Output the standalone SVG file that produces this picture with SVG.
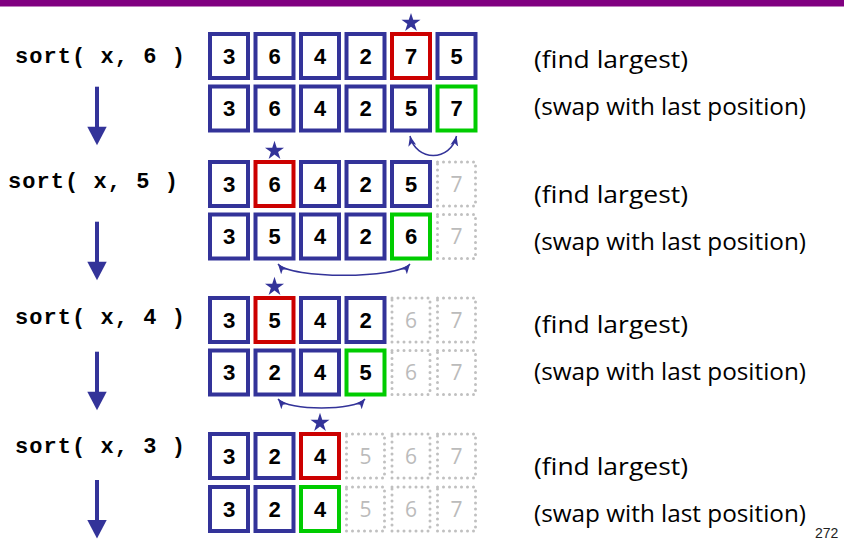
<svg xmlns="http://www.w3.org/2000/svg" xmlns:xlink="http://www.w3.org/1999/xlink" width="844" height="539" viewBox="0 0 844 539">
<style>
.c{fill:#fff;stroke:#333399;stroke-width:4}
.r{fill:#fff;stroke:#cc0000;stroke-width:4}
.g{fill:#fff;stroke:#00cc00;stroke-width:4}
.d{fill:none;stroke:#c0c0c0;stroke-width:3;stroke-dasharray:0 6;stroke-linecap:round}
.n{font-family:"Liberation Mono",monospace;font-weight:bold;font-size:22px;text-anchor:middle;fill:#000}
.gn{font-family:"Open Sans",sans-serif;font-size:21px;text-anchor:middle;fill:#bbbbbb}
.lab{font-family:"Liberation Mono",monospace;font-weight:bold;font-size:22px;fill:#000}
.t{font-family:"Open Sans",sans-serif;font-size:24px;fill:#000}
.arc{fill:none;stroke:#333399;stroke-width:1.5;marker-start:url(#ah);marker-end:url(#ah)}
.dn{fill:#333399}
.star{fill:#333399}
</style>
<defs>
<marker id="ah" markerUnits="userSpaceOnUse" markerWidth="12" markerHeight="10" refX="10" refY="4" orient="auto-start-reverse"><path d="M0,0 L10,4 L0,8 L2.5,4 z" fill="#333399"/></marker>
<path id="star" d="M0,-10 L2.25,-3.09 L9.51,-3.09 L3.63,1.18 L5.88,8.09 L0,3.82 L-5.88,8.09 L-3.63,1.18 L-9.51,-3.09 L-2.25,-3.09 Z"/>
</defs>
<rect x="0" y="0" width="844" height="6.5" fill="#800080"/>

<!-- Group 1 -->
<g id="g1r1">
<g id="g1r1c1"><rect class="c" x="210" y="34" width="38" height="44"/><text class="n" x="229" y="63.5">3</text></g>
<g id="g1r1c2"><rect class="c" x="255.5" y="34" width="38" height="44"/><text class="n" x="274.5" y="63.5">6</text></g>
<g id="g1r1c3"><rect class="c" x="301" y="34" width="38" height="44"/><text class="n" x="320" y="63.5">4</text></g>
<g id="g1r1c4"><rect class="c" x="346.5" y="34" width="38" height="44"/><text class="n" x="365.5" y="63.5">2</text></g>
<g id="g1r1c5"><rect class="r" x="392" y="34" width="38" height="44"/><text class="n" x="411" y="63.5">7</text></g>
<g id="g1r1c6"><rect class="c" x="437.5" y="34" width="38" height="44"/><text class="n" x="456.5" y="63.5">5</text></g>
</g>
<g id="g1r2">
<g id="g1r2c1"><rect class="c" x="210" y="86.5" width="38" height="44"/><text class="n" x="229" y="116">3</text></g>
<g id="g1r2c2"><rect class="c" x="255.5" y="86.5" width="38" height="44"/><text class="n" x="274.5" y="116">6</text></g>
<g id="g1r2c3"><rect class="c" x="301" y="86.5" width="38" height="44"/><text class="n" x="320" y="116">4</text></g>
<g id="g1r2c4"><rect class="c" x="346.5" y="86.5" width="38" height="44"/><text class="n" x="365.5" y="116">2</text></g>
<g id="g1r2c5"><rect class="c" x="392" y="86.5" width="38" height="44"/><text class="n" x="411" y="116">5</text></g>
<g id="g1r2c6"><rect class="g" x="437.5" y="86.5" width="38" height="44"/><text class="n" x="456.5" y="116">7</text></g>
</g>

<!-- Group 2 -->
<g id="g2r1">
<g id="g2r1c1"><rect class="c" x="210" y="162" width="38" height="44"/><text class="n" x="229" y="191.5">3</text></g>
<g id="g2r1c2"><rect class="r" x="255.5" y="162" width="38" height="44"/><text class="n" x="274.5" y="191.5">6</text></g>
<g id="g2r1c3"><rect class="c" x="301" y="162" width="38" height="44"/><text class="n" x="320" y="191.5">4</text></g>
<g id="g2r1c4"><rect class="c" x="346.5" y="162" width="38" height="44"/><text class="n" x="365.5" y="191.5">2</text></g>
<g id="g2r1c5"><rect class="c" x="392" y="162" width="38" height="44"/><text class="n" x="411" y="191.5">5</text></g>
<g id="g2r1c6"><rect class="d" x="437.5" y="162" width="38" height="44"/><text class="gn" x="456.5" y="191.5">7</text></g>
</g>
<g id="g2r2">
<g id="g2r2c1"><rect class="c" x="210" y="214.5" width="38" height="44"/><text class="n" x="229" y="244">3</text></g>
<g id="g2r2c2"><rect class="c" x="255.5" y="214.5" width="38" height="44"/><text class="n" x="274.5" y="244">5</text></g>
<g id="g2r2c3"><rect class="c" x="301" y="214.5" width="38" height="44"/><text class="n" x="320" y="244">4</text></g>
<g id="g2r2c4"><rect class="c" x="346.5" y="214.5" width="38" height="44"/><text class="n" x="365.5" y="244">2</text></g>
<g id="g2r2c5"><rect class="g" x="392" y="214.5" width="38" height="44"/><text class="n" x="411" y="244">6</text></g>
<g id="g2r2c6"><rect class="d" x="437.5" y="214.5" width="38" height="44"/><text class="gn" x="456.5" y="244">7</text></g>
</g>

<!-- Group 3 -->
<g id="g3r1">
<g id="g3r1c1"><rect class="c" x="210" y="298" width="38" height="44"/><text class="n" x="229" y="327.5">3</text></g>
<g id="g3r1c2"><rect class="r" x="255.5" y="298" width="38" height="44"/><text class="n" x="274.5" y="327.5">5</text></g>
<g id="g3r1c3"><rect class="c" x="301" y="298" width="38" height="44"/><text class="n" x="320" y="327.5">4</text></g>
<g id="g3r1c4"><rect class="c" x="346.5" y="298" width="38" height="44"/><text class="n" x="365.5" y="327.5">2</text></g>
<g id="g3r1c5"><rect class="d" x="392" y="298" width="38" height="44"/><text class="gn" x="411" y="327.5">6</text></g>
<g id="g3r1c6"><rect class="d" x="437.5" y="298" width="38" height="44"/><text class="gn" x="456.5" y="327.5">7</text></g>
</g>
<g id="g3r2">
<g id="g3r2c1"><rect class="c" x="210" y="350.5" width="38" height="44"/><text class="n" x="229" y="380">3</text></g>
<g id="g3r2c2"><rect class="c" x="255.5" y="350.5" width="38" height="44"/><text class="n" x="274.5" y="380">2</text></g>
<g id="g3r2c3"><rect class="c" x="301" y="350.5" width="38" height="44"/><text class="n" x="320" y="380">4</text></g>
<g id="g3r2c4"><rect class="g" x="346.5" y="350.5" width="38" height="44"/><text class="n" x="365.5" y="380">5</text></g>
<g id="g3r2c5"><rect class="d" x="392" y="350.5" width="38" height="44"/><text class="gn" x="411" y="380">6</text></g>
<g id="g3r2c6"><rect class="d" x="437.5" y="350.5" width="38" height="44"/><text class="gn" x="456.5" y="380">7</text></g>
</g>

<!-- Group 4 -->
<g id="g4r1">
<g id="g4r1c1"><rect class="c" x="210" y="434" width="38" height="44"/><text class="n" x="229" y="463.5">3</text></g>
<g id="g4r1c2"><rect class="c" x="255.5" y="434" width="38" height="44"/><text class="n" x="274.5" y="463.5">2</text></g>
<g id="g4r1c3"><rect class="r" x="301" y="434" width="38" height="44"/><text class="n" x="320" y="463.5">4</text></g>
<g id="g4r1c4"><rect class="d" x="346.5" y="434" width="38" height="44"/><text class="gn" x="365.5" y="463.5">5</text></g>
<g id="g4r1c5"><rect class="d" x="392" y="434" width="38" height="44"/><text class="gn" x="411" y="463.5">6</text></g>
<g id="g4r1c6"><rect class="d" x="437.5" y="434" width="38" height="44"/><text class="gn" x="456.5" y="463.5">7</text></g>
</g>
<g id="g4r2">
<g id="g4r2c1"><rect class="c" x="210" y="487" width="38" height="44"/><text class="n" x="229" y="516.5">3</text></g>
<g id="g4r2c2"><rect class="c" x="255.5" y="487" width="38" height="44"/><text class="n" x="274.5" y="516.5">2</text></g>
<g id="g4r2c3"><rect class="g" x="301" y="487" width="38" height="44"/><text class="n" x="320" y="516.5">4</text></g>
<g id="g4r2c4"><rect class="d" x="346.5" y="487" width="38" height="44"/><text class="gn" x="365.5" y="516.5">5</text></g>
<g id="g4r2c5"><rect class="d" x="392" y="487" width="38" height="44"/><text class="gn" x="411" y="516.5">6</text></g>
<g id="g4r2c6"><rect class="d" x="437.5" y="487" width="38" height="44"/><text class="gn" x="456.5" y="516.5">7</text></g>
</g>

<!-- Stars -->
<g id="stars" class="star">
<use href="#star" x="411" y="22.9"/>
<use href="#star" x="274.5" y="150.8"/>
<use href="#star" x="274.5" y="286.8"/>
<use href="#star" x="320" y="422.8"/>
</g>

<!-- Left labels -->
<g id="label1"><text class="lab" x="15" y="63.3" textLength="170" lengthAdjust="spacing">sort( x, 6 )</text></g>
<g id="label2"><text class="lab" x="8" y="188" textLength="170" lengthAdjust="spacing">sort( x, 5 )</text></g>
<g id="label3"><text class="lab" x="15" y="324" textLength="170" lengthAdjust="spacing">sort( x, 4 )</text></g>
<g id="label4"><text class="lab" x="15" y="453.3" textLength="170" lengthAdjust="spacing">sort( x, 3 )</text></g>

<!-- Right notes -->
<g id="note1"><text class="t" x="534" y="68.3" textLength="154" lengthAdjust="spacingAndGlyphs">(find largest)</text><text class="t" x="534" y="115" textLength="272" lengthAdjust="spacingAndGlyphs">(swap with last position)</text></g>
<g id="note2"><text class="t" x="534" y="203.3" textLength="154" lengthAdjust="spacingAndGlyphs">(find largest)</text><text class="t" x="534" y="250" textLength="272" lengthAdjust="spacingAndGlyphs">(swap with last position)</text></g>
<g id="note3"><text class="t" x="534" y="333.3" textLength="154" lengthAdjust="spacingAndGlyphs">(find largest)</text><text class="t" x="534" y="380" textLength="272" lengthAdjust="spacingAndGlyphs">(swap with last position)</text></g>
<g id="note4"><text class="t" x="534" y="475" textLength="154" lengthAdjust="spacingAndGlyphs">(find largest)</text><text class="t" x="534" y="521.7" textLength="272" lengthAdjust="spacingAndGlyphs">(swap with last position)</text></g>

<!-- Connectors -->
<g id="connectors">
<path class="arc" d="M410,136 C416,162 450.5,162 456.5,136"/>
<path class="arc" d="M278,264 C290,279 398,279 410,264"/>
<path class="arc" d="M278,399 C288,411 355,411 365,399"/>
<g class="dn">
<rect x="95" y="86.7" width="4" height="41"/><polygon points="87.3,126.7 106.7,126.7 97,145.2"/>
<rect x="95" y="221.7" width="4" height="41"/><polygon points="87.3,261.7 106.7,261.7 97,280.2"/>
<rect x="95" y="351.7" width="4" height="41"/><polygon points="87.3,391.7 106.7,391.7 97,410.2"/>
<rect x="95" y="480" width="4" height="41"/><polygon points="87.3,520 106.7,520 97,538.5"/>
</g>
</g>

<text x="815" y="537.5" font-family="Liberation Sans, sans-serif" font-size="14" fill="#222">272</text>
</svg>
